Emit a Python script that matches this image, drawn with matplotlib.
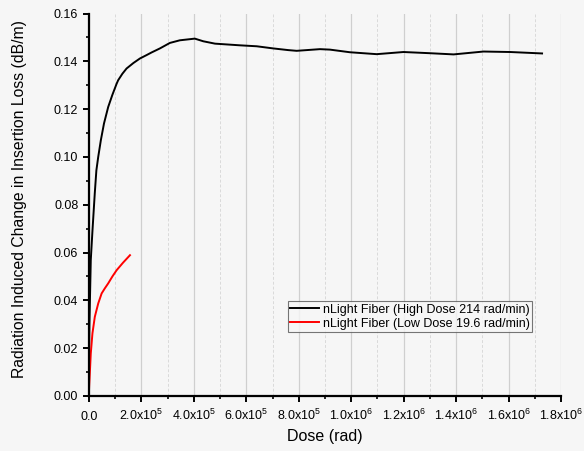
import matplotlib
matplotlib.use("Agg")
from matplotlib import pyplot as plt
from matplotlib.ticker import MultipleLocator, FixedLocator, FixedFormatter

plt.rcParams['font.family'] = ['Liberation Sans', 'DejaVu Sans']
plt.rcParams['mathtext.fontset'] = 'custom'
plt.rcParams['mathtext.rm'] = 'Liberation Sans'
plt.rcParams['mathtext.it'] = 'Liberation Sans'

# high dose series (dose in rad, loss in dB/m)
high_dose = [0, 1e3, 2.5e3, 5e3, 7.7e3, 1.4e4, 2.3e4, 2.9e4, 3.6e4, 4.6e4, 5.8e4,
             7.4e4, 9e4, 1.06e5, 1.12e5, 1.28e5, 1.44e5, 1.7e5, 1.95e5, 2.2e5, 2.39e5,
             2.71e5, 3.09e5, 3.47e5, 4.04e5, 4.36e5, 4.81e5, 5.76e5, 6.4e5, 7.03e5,
             7.6e5, 7.92e5, 8.81e5, 9.19e5, 9.95e5, 1.097e6, 1.199e6, 1.3e6, 1.39e6,
             1.504e6, 1.606e6, 1.727e6]
high_loss = [0, 0.016, 0.03, 0.043, 0.057, 0.069, 0.085, 0.0944, 0.1, 0.107, 0.114,
             0.1209, 0.126, 0.1306, 0.1321, 0.1348, 0.137, 0.1393, 0.1412, 0.1426, 0.1437,
             0.1454, 0.1477, 0.1488, 0.1495, 0.1484, 0.1474, 0.1467, 0.1463, 0.1454,
             0.1447, 0.1444, 0.1451, 0.1449, 0.1438, 0.143, 0.1439, 0.1434, 0.1429,
             0.1441, 0.1439, 0.1433]

# low dose series
low_dose = [0, 1.5e3, 4e3, 7.7e3, 1.4e4, 2.3e4, 3.6e4, 4.9e4, 6.1e4, 7.4e4, 9e4,
            1.06e5, 1.3e5, 1.57e5]
low_loss = [0, 0.004, 0.0095, 0.0178, 0.0262, 0.0331, 0.0387, 0.0429, 0.045, 0.0471,
            0.05, 0.0526, 0.0557, 0.0589]

x_ticks = [0, 2e5, 4e5, 6e5, 8e5, 1e6, 1.2e6, 1.4e6, 1.6e6, 1.8e6]
x_labels = ['0.0', r'2.0x10$^{5}$', r'4.0x10$^{5}$', r'6.0x10$^{5}$', r'8.0x10$^{5}$',
            r'1.0x10$^{6}$', r'1.2x10$^{6}$', r'1.4x10$^{6}$', r'1.6x10$^{6}$',
            r'1.8x10$^{6}$']

bg = '#f6f6f6'
fig = plt.figure(figsize=(5.84, 4.51), dpi=100, facecolor=bg)
ax = fig.add_axes([0.152, 0.122, 0.809, 0.848], facecolor=bg)

ax.plot(high_dose, high_loss, color='black', lw=1.4, solid_joinstyle='round',
        label='nLight Fiber (High Dose 214 rad/min)')
ax.plot(low_dose, low_loss, color='red', lw=1.4, solid_joinstyle='round',
        label='nLight Fiber (Low Dose 19.6 rad/min)')

ax.set_xlim(0, 1.8e6)
ax.set_ylim(0, 0.16)
ax.xaxis.set_major_locator(FixedLocator(x_ticks))
ax.xaxis.set_major_formatter(FixedFormatter(x_labels))
ax.xaxis.set_minor_locator(MultipleLocator(1e5))
ax.yaxis.set_major_locator(MultipleLocator(0.02))
ax.yaxis.set_minor_locator(MultipleLocator(0.01))
ax.yaxis.set_major_formatter(plt.FormatStrFormatter('%.2f'))

ax.grid(True, axis='x', which='major', color='#cfcfcf', lw=0.9)
ax.grid(True, axis='x', which='minor', color='#dadada', lw=0.7, ls=(0, (3, 2)))
ax.set_axisbelow(True)

for s in ['top', 'right']:
    ax.spines[s].set_visible(False)
for s in ['left', 'bottom']:
    ax.spines[s].set_linewidth(1.6)

ax.tick_params(which='major', direction='out', length=4.5, width=1.4, labelsize=9, pad=3)
ax.tick_params(which='minor', direction='out', length=2.5, width=1.2)
ax.tick_params(axis='x', pad=13)
for lab in ax.get_xticklabels():
    lab.set_verticalalignment('baseline')

ax.set_xlabel('Dose (rad)', fontsize=11.5, labelpad=4)
ax.set_ylabel('Radiation Induced Change in Insertion Loss (dB/m)', fontsize=11.3)
ax.yaxis.set_label_coords(-0.13, 0.515)

leg = ax.legend(loc='lower left', bbox_to_anchor=(0.4216, 0.167), borderaxespad=0,
                fontsize=9, frameon=True, fancybox=False, edgecolor='#555555',
                facecolor=bg, handlelength=2.3, borderpad=0.2, labelspacing=0.15,
                handletextpad=0.3)
leg.get_frame().set_linewidth(0.8)

fig.savefig('out.png', dpi=100, facecolor=bg)
